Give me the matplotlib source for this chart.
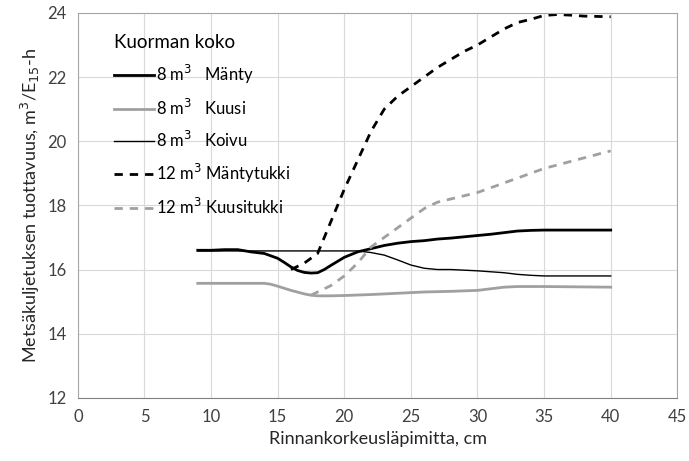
import numpy as np
import matplotlib
matplotlib.use("Agg")
import matplotlib.pyplot as plt

plt.rcParams['font.family'] = ['Lato', 'DejaVu Sans']

# data
x_manty = [9, 10, 11, 12, 13, 14, 15, 15.5, 16, 16.5, 17, 17.5, 18, 18.5, 19, 20, 21, 22,
           23, 24, 25, 26, 27, 28, 29, 30, 31, 32, 33, 34, 35, 36, 38, 40]
y_manty = [16.6, 16.6, 16.62, 16.62, 16.55, 16.5, 16.35, 16.22, 16.08, 15.97, 15.91, 15.89,
           15.9, 16.0, 16.13, 16.38, 16.55, 16.65, 16.75, 16.82, 16.87, 16.9, 16.95, 16.98,
           17.02, 17.06, 17.1, 17.15, 17.2, 17.22, 17.23, 17.23, 17.23, 17.23]

x_kuusi = [9, 12, 14, 14.5, 15, 16, 17, 17.5, 18, 19, 20, 22, 24, 26, 28, 30, 31, 32, 33,
           35, 40]
y_kuusi = [15.57, 15.57, 15.57, 15.54, 15.48, 15.35, 15.24, 15.2, 15.18, 15.18, 15.19,
           15.22, 15.26, 15.3, 15.32, 15.35, 15.4, 15.45, 15.47, 15.47, 15.45]

x_koivu = [9, 15, 21, 22, 23, 24, 25, 26, 27, 28, 29, 30, 31, 32, 33, 34, 35, 40]
y_koivu = [16.58, 16.58, 16.58, 16.53, 16.45, 16.3, 16.14, 16.04, 16.0, 16.0, 15.98,
           15.96, 15.93, 15.9, 15.85, 15.82, 15.8, 15.8]

x_mtukki = [16, 17, 18, 19, 20, 21, 22, 23, 24, 25, 26, 27, 28, 29, 30, 31, 32, 33, 34,
            35, 36, 37, 38, 40]
y_mtukki = [16.0, 16.2, 16.5, 17.5, 18.5, 19.4, 20.3, 21.0, 21.4, 21.7, 22.0, 22.3, 22.55,
            22.8, 23.0, 23.25, 23.5, 23.7, 23.8, 23.92, 23.95, 23.93, 23.9, 23.88]

x_ktukki = [17.5, 18, 19, 20, 21, 22, 23, 24, 25, 26, 27, 28, 30, 32, 35, 40]
y_ktukki = [15.2, 15.3, 15.5, 15.8, 16.2, 16.7, 17.0, 17.3, 17.6, 17.9, 18.1, 18.2, 18.4,
            18.7, 19.15, 19.7]

fig = plt.figure(figsize=(6.89, 4.61), dpi=100)
ax = fig.add_axes([0.113, 0.137, 0.87, 0.835])

ax.plot(x_manty, y_manty, color='black', lw=2.0, label='8 m$^3$   Mänty')
ax.plot(x_kuusi, y_kuusi, color='#a0a0a0', lw=2.0, label='8 m$^3$   Kuusi')
ax.plot(x_koivu, y_koivu, color='black', lw=1.0, label='8 m$^3$   Koivu')
ax.plot(x_mtukki, y_mtukki, color='black', lw=2.0, ls=(0, (3, 2.5)), label='12 m$^3$ Mäntytukki')
ax.plot(x_ktukki, y_ktukki, color='#a0a0a0', lw=2.0, ls=(0, (3, 2.5)), label='12 m$^3$ Kuusitukki')

ax.set_xlim(0, 45)
ax.set_ylim(12, 24)
ax.set_xticks(np.arange(0, 46, 5))
ax.set_yticks(np.arange(12, 25, 2))
ax.grid(True, color='#d9d9d9', lw=0.8)
ax.set_axisbelow(True)
ax.tick_params(length=0, labelsize=12, colors='#404040', pad=8)
for s in ax.spines.values():
    s.set_color('#a6a6a6')
ax.spines['bottom'].set_color('#808080')

ax.set_xlabel('Rinnankorkeusläpimitta, cm', fontsize=13, color='#262626')
ax.set_ylabel('Metsäkuljetuksen tuottavuus, m$^3$/E$_{15}$-h', fontsize=13, color='#262626')

leg = ax.legend(title='Kuorman koko', loc='upper left', bbox_to_anchor=(0.035, 0.985),
                frameon=False, fontsize=12, title_fontsize=13.5, handlelength=2.4,
                handletextpad=0.15, labelspacing=0.72)
leg._legend_box.align = 'left'

fig.savefig('out.png', dpi=100)
